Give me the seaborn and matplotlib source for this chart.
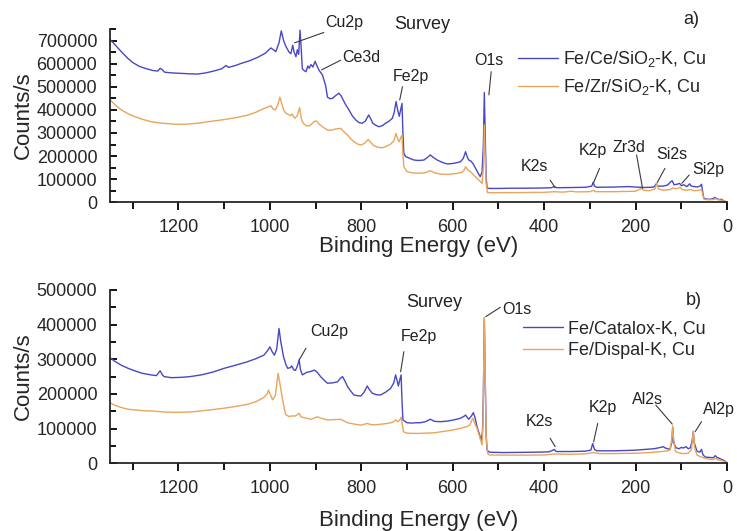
import numpy as np
import pandas as pd
import matplotlib
matplotlib.use("Agg")
import matplotlib.pyplot as plt
import seaborn as sns
from matplotlib.ticker import MultipleLocator, StrMethodFormatter

# ---------------- data ----------------
# Panel a) Fe/Ce/SiO2-K, Cu
e_a_ce = [1350, 1340, 1325, 1310, 1300, 1285, 1270, 1255, 1245, 1240, 1236, 1230, 1215, 1195, 1175,
          1158, 1140, 1121, 1105, 1096, 1090, 1075, 1063, 1045, 1027, 1010, 1005, 998, 992, 987, 980,
          975, 970, 965, 958, 954, 950, 947, 943, 940, 937, 934, 931, 929, 925, 921, 917, 914, 910,
          906, 901, 897, 892, 885, 878, 874, 868, 863, 856, 849, 844, 835, 827, 820, 812, 805, 798,
          791, 784, 779, 775, 768, 761, 754, 747, 740, 732, 728, 724, 720, 717, 714, 711, 709, 707,
          703, 694, 685, 675, 663, 655, 649, 643, 634, 622, 612, 600, 590, 583, 577, 572, 568, 565,
          560, 555, 550, 545, 540, 536, 533, 531, 529, 527, 525, 520, 500, 470, 440, 400, 385, 378,
          372, 340, 310, 296, 293, 290, 285, 250, 230, 215, 200, 190, 180, 160, 155, 152, 140, 130,
          124, 120, 116, 110, 104, 100, 95, 88, 82, 78, 72, 65, 58, 56, 53, 51, 45, 38, 32, 27, 24,
          18, 13, 8, 4, 0]
i_a_ce = [705000, 685000, 652000, 622000, 605000, 588000, 578000, 570000, 568000, 580000, 575000,
          563000, 560000, 558000, 556000, 555000, 560000, 569000, 578000, 592000, 584000, 592000,
          601000, 612000, 627000, 645000, 655000, 668000, 660000, 652000, 690000, 742000, 700000,
          675000, 650000, 643000, 680000, 650000, 630000, 660000, 640000, 745000, 650000, 578000,
          570000, 565000, 590000, 580000, 596000, 585000, 610000, 590000, 570000, 551000, 505000,
          455000, 448000, 450000, 462000, 472000, 460000, 425000, 400000, 375000, 356000, 345000,
          342000, 352000, 378000, 360000, 342000, 333000, 327000, 332000, 342000, 350000, 364000,
          390000, 436000, 395000, 372000, 400000, 428000, 300000, 212000, 198000, 190000, 183000,
          181000, 183000, 195000, 205000, 195000, 183000, 172000, 166000, 168000, 172000, 176000,
          190000, 219000, 195000, 183000, 178000, 165000, 147000, 128000, 111000, 130000, 250000,
          475000, 300000, 110000, 62000, 60000, 60000, 61000, 61000, 62000, 63000, 68000, 63000,
          64000, 65000, 70000, 87000, 70000, 65000, 66000, 67000, 68000, 66000, 65000, 64000,
          66000, 80000, 70000, 70000, 75000, 88000, 93000, 76000, 78000, 82000, 72000, 76000,
          68000, 80000, 70000, 68000, 66000, 72000, 78000, 40000, 17000, 14000, 13000, 15000,
          21000, 17000, 12000, 13000, 7000, 3000, 1000]

# Panel a) Fe/Zr/SiO2-K, Cu
e_a_zr = [1350, 1340, 1325, 1310, 1296, 1280, 1260, 1240, 1209, 1185, 1158, 1130, 1100, 1075, 1049,
          1030, 1013, 1003, 998, 993, 988, 983, 978, 973, 970, 965, 961, 955, 951, 948, 945, 940,
          935, 931, 927, 921, 914, 908, 903, 898, 892, 885, 874, 865, 855, 845, 838, 830, 823, 816,
          808, 801, 793, 785, 779, 772, 763, 754, 745, 736, 729, 724, 720, 717, 714, 711, 709, 707,
          700, 690, 680, 671, 660, 649, 640, 627, 610, 590, 580, 575, 572, 567, 561, 553, 547, 541,
          536, 533, 531, 529, 527, 524, 510, 480, 450, 420, 400, 378, 360, 340, 330, 300, 293, 288,
          250, 220, 200, 187, 183, 170, 158, 154, 150, 140, 125, 118, 110, 103, 98, 90, 80, 72, 62,
          56, 53, 50, 40, 30, 26, 22, 15, 8, 3, 0]
i_a_zr = [445000, 425000, 400000, 383000, 371000, 360000, 349000, 343000, 338000, 338000, 342000,
          350000, 358000, 366000, 377000, 390000, 406000, 413000, 418000, 404000, 400000, 420000,
          455000, 420000, 400000, 385000, 382000, 375000, 382000, 370000, 364000, 375000, 410000,
          360000, 342000, 332000, 330000, 340000, 350000, 352000, 338000, 327000, 313000, 312000,
          318000, 320000, 305000, 291000, 275000, 262000, 252000, 248000, 255000, 272000, 258000,
          244000, 238000, 236000, 242000, 252000, 265000, 298000, 272000, 262000, 280000, 290000,
          210000, 154000, 133000, 128000, 126000, 126000, 128000, 137000, 128000, 122000, 121000,
          125000, 130000, 140000, 154000, 140000, 132000, 115000, 104000, 92000, 82000, 150000,
          335000, 200000, 80000, 42000, 41500, 42000, 42000, 43000, 43000, 46000, 44000, 48000,
          45000, 46000, 52000, 46000, 46000, 47000, 48000, 60000, 52000, 50000, 58000, 80000,
          58000, 52000, 55000, 62000, 58000, 65000, 55000, 52000, 55000, 50000, 52000, 56000,
          30000, 13000, 11000, 12000, 16000, 12000, 10000, 6000, 2000, 1000]

# Panel b) Fe/Catalox-K, Cu
e_b_cat = [1350, 1340, 1325, 1310, 1296, 1280, 1260, 1248, 1240, 1235, 1231, 1215, 1194, 1175, 1150,
           1125, 1100, 1075, 1049, 1030, 1013, 1005, 1000, 995, 990, 985, 980, 976, 970, 965, 961,
           955, 952, 948, 944, 940, 936, 933, 929, 920, 914, 908, 903, 896, 889, 880, 874, 863, 852,
           846, 841, 836, 830, 823, 816, 808, 801, 794, 787, 782, 776, 767, 758, 747, 736, 729, 725,
           722, 719, 716, 713, 711, 709, 700, 690, 680, 671, 660, 649, 640, 627, 610, 595, 583, 575,
           572, 568, 565, 560, 555, 551, 547, 542, 538, 535, 533, 531, 529, 527, 525, 520, 490, 450,
           420, 390, 382, 378, 374, 340, 310, 298, 294, 290, 285, 250, 220, 200, 180, 160, 145, 140,
           135, 125, 121, 119, 117, 112, 105, 100, 96, 90, 85, 80, 76, 74, 72, 66, 60, 56, 53, 48,
           40, 30, 26, 22, 15, 8, 3, 0]
i_b_cat = [305000, 295000, 283000, 274000, 267000, 260000, 255000, 253000, 267000, 255000, 250000,
           247000, 248000, 250000, 255000, 263000, 274000, 283000, 293000, 302000, 312000, 325000,
           336000, 322000, 312000, 330000, 389000, 350000, 307000, 285000, 274000, 276000, 281000,
           270000, 268000, 280000, 298000, 270000, 255000, 262000, 264000, 266000, 269000, 262000,
           250000, 238000, 231000, 232000, 235000, 245000, 250000, 238000, 221000, 208000, 197000,
           195000, 194000, 205000, 223000, 212000, 202000, 198000, 197000, 205000, 216000, 232000,
           255000, 240000, 223000, 240000, 255000, 180000, 125000, 117000, 116000, 117000, 117000,
           120000, 127000, 121000, 120000, 122000, 126000, 130000, 136000, 139000, 132000, 127000,
           135000, 146000, 130000, 106000, 85000, 67000, 90000, 200000, 415000, 250000, 80000,
           38000, 32000, 31000, 31500, 32000, 33000, 37000, 40000, 34000, 34000, 35000, 38000,
           57000, 40000, 36000, 36000, 37000, 38000, 40000, 42000, 46000, 48000, 44000, 40000,
           60000, 103000, 60000, 45000, 42000, 46000, 44000, 48000, 42000, 45000, 70000, 92000,
           60000, 35000, 32000, 40000, 25000, 18000, 17000, 16000, 22000, 17000, 13000, 9000, 5000,
           3000]

# Panel b) Fe/Dispal-K, Cu
e_b_dis = [1350, 1340, 1325, 1310, 1296, 1280, 1260, 1230, 1202, 1175, 1150, 1125, 1100, 1075, 1049,
           1030, 1013, 1006, 1003, 998, 994, 988, 982, 978, 972, 968, 965, 958, 950, 945, 940, 936,
           932, 929, 920, 910, 896, 888, 874, 860, 845, 838, 830, 815, 801, 787, 780, 770, 755, 743,
           732, 725, 720, 716, 713, 710, 708, 700, 680, 660, 641, 620, 600, 583, 569, 563, 558, 556,
           552, 547, 542, 536, 534, 532, 531, 529, 527, 524, 520, 480, 440, 400, 378, 350, 310, 293,
           280, 250, 200, 170, 150, 135, 125, 121, 119, 117, 113, 105, 95, 85, 78, 74, 71, 66, 60,
           50, 40, 30, 25, 20, 12, 6, 0]
i_b_dis = [175000, 168000, 161000, 156000, 154000, 152000, 151000, 148000, 147000, 148000, 151000,
           155000, 159000, 164000, 170000, 178000, 190000, 200000, 211000, 195000, 183000, 195000,
           260000, 230000, 183000, 155000, 140000, 135000, 137000, 136000, 140000, 144000, 134000,
           133000, 130000, 127000, 134000, 130000, 125000, 126000, 127000, 122000, 117000, 113000,
           110000, 115000, 112000, 111000, 113000, 115000, 118000, 125000, 120000, 125000, 133000,
           110000, 91000, 87000, 86000, 87000, 88000, 92000, 96000, 101000, 106000, 110000, 125000,
           130000, 115000, 101000, 80000, 53000, 110000, 300000, 420000, 250000, 80000, 29000,
           24000, 23500, 23500, 24000, 27000, 26000, 27000, 31000, 28000, 28000, 29000, 31000,
           33000, 35000, 38000, 70000, 108000, 70000, 34000, 30000, 28000, 29000, 40000, 92000,
           45000, 24000, 20000, 15000, 12000, 11000, 14000, 10000, 8000, 5000, 3000]

labels_a = ["Fe/Ce/SiO$_\\mathregular{2}$-K, Cu", "Fe/Zr/SiO$_\\mathregular{2}$-K, Cu"]
labels_b = ["Fe/Catalox-K, Cu", "Fe/Dispal-K, Cu"]

# ---------------- style ----------------
sns.set_theme(style="ticks")
plt.rcParams["font.family"] = ["Liberation Sans", "DejaVu Sans"]
plt.rcParams["mathtext.fontset"] = "custom"
plt.rcParams["mathtext.rm"] = "Liberation Sans"
plt.rcParams["mathtext.it"] = "Liberation Sans:italic"
plt.rcParams["axes.linewidth"] = 1.3

BLUE = "#4848C4"
ORANGE = "#E8A55C"
LEAD = "#3a3a3a"

fig = plt.figure(figsize=(7.37, 5.31), dpi=100)
ax_a = fig.add_axes([0.149, 0.619, 0.8376, 0.3264])
ax_b = fig.add_axes([0.149, 0.1275, 0.8376, 0.3264])


def draw_panel(ax, e1, i1, l1, e2, i2, l2, ymax, xpad):
    df = pd.concat([
        pd.DataFrame({"energy": e1, "counts": i1, "sample": l1}),
        pd.DataFrame({"energy": e2, "counts": i2, "sample": l2}),
    ], ignore_index=True)
    sns.lineplot(data=df, x="energy", y="counts", hue="sample", hue_order=[l1, l2],
                 palette=[BLUE, ORANGE], estimator=None, sort=True, linewidth=1.0, ax=ax)
    ax.set_xlim(1350, 0)
    ax.set_ylim(0, ymax)
    ax.xaxis.set_major_locator(MultipleLocator(200))
    ax.xaxis.set_minor_locator(MultipleLocator(100))
    ax.yaxis.set_major_locator(MultipleLocator(100000))
    ax.yaxis.set_minor_locator(MultipleLocator(50000))
    ax.yaxis.set_major_formatter(StrMethodFormatter("{x:.0f}"))
    ax.tick_params(axis="x", which="major", direction="out", length=6, width=1.3,
                   labelsize=13, pad=6, color="black")
    ax.tick_params(axis="x", which="minor", direction="out", length=5, width=1.3, color="black")
    ax.tick_params(axis="y", which="major", direction="in", length=5, width=1.3,
                   labelsize=13, pad=9, color="black")
    ax.tick_params(axis="y", which="minor", direction="in", length=4, width=1.3, color="black")
    ax.set_xlabel("Binding Energy (eV)", fontsize=16, labelpad=xpad)
    ax.set_ylabel("Counts/s", fontsize=16, labelpad=2)
    sns.despine(ax=ax)


draw_panel(ax_a, e_a_ce, i_a_ce, labels_a[0], e_a_zr, i_a_zr, labels_a[1], 750000, 0)
draw_panel(ax_b, e_b_cat, i_b_cat, labels_b[0], e_b_dis, i_b_dis, labels_b[1], 500000, 9.5)

sns.move_legend(ax_a, "upper left", bbox_to_anchor=(0.661, 0.885), frameon=False, title=None,
                borderpad=0, borderaxespad=0, handlelength=2.2, handletextpad=0.3,
                labelspacing=0.45, fontsize=13)
sns.move_legend(ax_b, "upper left", bbox_to_anchor=(0.669, 0.823), frameon=False, title=None,
                borderpad=0, borderaxespad=0, handlelength=2.2, handletextpad=0.3,
                labelspacing=0.25, fontsize=13)

# peak labels: (text, text_x, text_y, line_from, line_to)
ann_a = [
    ("Cu2p", 838, 778000, (882, 735000), (946, 690000)),
    ("Ce3d", 799, 627000, (845, 615000), (887, 573000)),
    ("Fe2p", 692, 545000, (710, 500000), (716, 443000)),
    ("O1s", 522, 612000, (516, 565000), (521, 465000)),
    ("K2s", 422, 157000, (387, 96000), (376, 63000)),
    ("K2p", 294, 226000, (279, 147000), (292, 85000)),
    ("Zr3d", 214, 237000, (198, 205000), (185, 61000)),
    ("Si2s", 122, 209000, (136, 147000), (153, 85000)),
    ("Si2p", 41, 144000, (83, 118000), (99, 82000)),
]
ann_b = [
    ("Cu2p", 870, 381000, (921, 332000), (936, 298000)),
    ("Fe2p", 675, 367000, (707, 322000), (714, 264000)),
    ("O1s", 459, 445000, (496, 450000), (528, 423000)),
    ("K2s", 410, 122000, (387, 72000), (376, 48000)),
    ("K2p", 272, 161000, (283, 115000), (292, 62000)),
    ("Al2s", 174, 185000, (156, 168000), (120, 113000)),
    ("Al2p", 18, 154000, (56, 120000), (70, 91000)),
]
for ax, anns in ((ax_a, ann_a), (ax_b, ann_b)):
    for txt, tx, ty, p0, p1 in anns:
        ax.text(tx, ty, txt, ha="center", va="center", fontsize=11.5, color="#222222")
        ax.plot([p0[0], p1[0]], [p0[1], p1[1]], color=LEAD, lw=0.8, clip_on=False)

ax_a.text(667, 770000, "Survey", ha="center", va="center", fontsize=13, color="#222222")
ax_a.text(78, 793000, "a)", ha="center", va="center", fontsize=13, color="#222222")
ax_b.text(641, 464000, "Survey", ha="center", va="center", fontsize=13, color="#222222")
ax_b.text(73, 471000, "b)", ha="center", va="center", fontsize=13, color="#222222")

fig.savefig("out.png", dpi=100)
